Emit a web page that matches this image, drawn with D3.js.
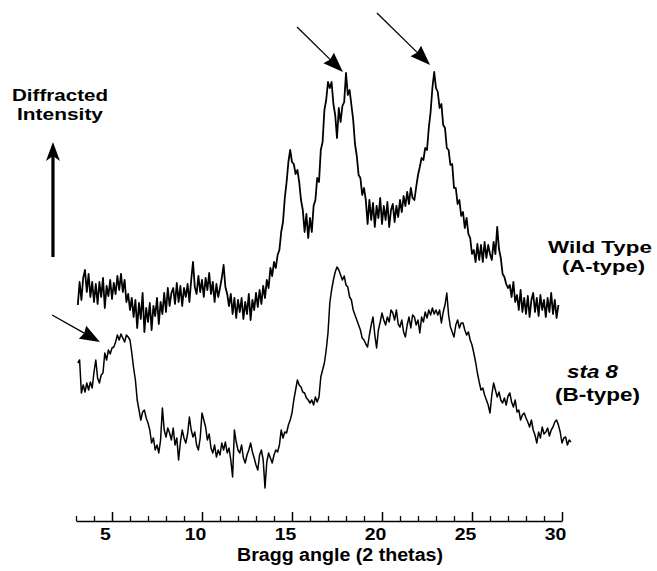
<!DOCTYPE html>
<html>
<head>
<meta charset="utf-8">
<script src="https://cdn.jsdelivr.net/npm/d3@7"></script>
<style>
body { margin: 0; background: #fff; }
svg text { font-family: "Liberation Sans", Arial, sans-serif; font-weight: bold; fill: #000; }
</style>
</head>
<body>
<svg id="chart" width="657" height="571"></svg>
<script>
// scan sampling (2 theta, degrees)
var scanStart = 3.1;
var scanStep = 0.1;

// Wild Type (A-type), counts from 3.1 to 29.8 deg
var wildType = [
  195, 218, 200, 222, 230, 208, 226, 203, 218, 198,
  216, 196, 218, 203, 222, 192, 214, 204, 220, 201,
  217, 206, 224, 210, 226, 208, 220, 198, 206, 190,
  202, 183, 200, 172, 197, 181, 207, 168, 192, 178,
  197, 170, 194, 184, 202, 176, 198, 186, 207, 188,
  212, 194, 207, 212, 196, 217, 198, 214, 194, 212,
  203, 216, 198, 220, 238, 213, 206, 224, 208, 220,
  203, 222, 210, 227, 206, 218, 198, 216, 203, 212,
  222, 235, 213, 206, 194, 206, 186, 202, 182, 200,
  188, 202, 181, 198, 186, 206, 180, 200, 190, 207,
  193, 210, 196, 214, 202, 220, 212, 232, 224, 238,
  232, 245, 250, 268, 278, 302, 318, 338, 350, 338,
  336, 326, 330, 318, 300, 290, 268, 286, 262, 282,
  268, 294, 300, 322, 318, 350, 358, 390, 400, 418,
  412, 418, 396, 385, 362, 392, 378, 394, 398, 427,
  405, 410, 395, 380, 356, 344, 325, 322, 305, 312,
  300, 276, 300, 280, 297, 273, 294, 282, 302, 276,
  294, 280, 298, 273, 290, 296, 278, 294, 283, 300,
  288, 304, 294, 308, 296, 312, 302, 300, 313, 325,
  333, 342, 340, 352, 350, 372, 388, 412, 428, 412,
  408, 392, 396, 375, 372, 352, 350, 335, 336, 312,
  312, 296, 300, 284, 288, 272, 282, 266, 262, 246,
  250, 238, 256, 240, 255, 238, 258, 242, 255, 246,
  240, 258, 246, 273, 251, 242, 226, 223, 216, 212,
  215, 203, 218, 198, 205, 190, 210, 188, 202, 186,
  204, 183, 200, 207, 188, 202, 184, 205, 190, 200,
  183, 202, 188, 207, 186, 200, 182, 195
];

// sta 8 (B-type), counts from 3.1 to 30.5 deg
var sta8 = [
  137, 140, 107, 115, 108, 117, 110, 118, 112, 128,
  140, 122, 117, 125, 127, 147, 140, 150, 146, 152,
  153, 158, 165, 160, 166, 162, 158, 165, 163, 160,
  147, 132, 120, 100, 90, 80, 88, 90, 82, 77,
  70, 57, 62, 50, 55, 47, 60, 92, 70, 63,
  72, 67, 60, 72, 55, 62, 40, 58, 70, 62,
  57, 66, 83, 70, 63, 68, 55, 50, 62, 87,
  80, 73, 60, 66, 52, 47, 55, 43, 50, 45,
  57, 50, 58, 47, 52, 40, 23, 70, 58, 50,
  47, 55, 42, 37, 45, 50, 57, 48, 42, 35,
  30, 45, 50, 40, 12, 38, 47, 42, 37, 45,
  50, 48, 55, 70, 62, 68, 67, 75, 80, 87,
  100, 110, 120, 115, 113, 108, 107, 102, 100, 97,
  100, 95, 103, 98, 103, 123, 130, 137, 150, 167,
  197, 210, 220, 228, 233, 230, 225, 220, 224, 215,
  213, 203, 200, 190, 185, 180, 175, 170, 162, 160,
  156, 153, 165, 175, 183, 165, 152, 170, 178, 187,
  180, 175, 183, 178, 190, 187, 180, 190, 176, 173,
  180, 168, 163, 175, 183, 172, 185, 183, 175, 180,
  167, 183, 178, 188, 182, 190, 185, 192, 186, 190,
  185, 190, 177, 188, 195, 207, 185, 173, 168, 163,
  175, 180, 172, 177, 177, 170, 165, 168, 160, 155,
  147, 138, 127, 118, 110, 112, 105, 100, 95, 87,
  105, 117, 110, 103, 108, 100, 97, 102, 95, 104,
  107, 98, 93, 100, 88, 90, 80, 85, 87, 82,
  78, 73, 80, 70, 65, 57, 68, 62, 73, 66,
  68, 72, 64, 70, 73, 78, 80, 75, 68, 57,
  62, 63, 55, 60, 58
];

var majorTicks = [5, 10, 15, 20, 25, 30];
var minorTicks = [3, 4, 6, 7, 8, 9, 11, 12, 13, 14, 16, 17, 18, 19, 21, 22, 23, 24, 26, 27, 28, 29];

// peak arrows: tail (2theta, counts) -> tip (2theta, counts)
var peakArrows = [
  [1.67, 185, 4.33, 158],
  [15.28, 473, 17.83, 428],
  [19.72, 487, 22.67, 435]
];

var svg = d3.select("#chart");

var x = d3.scaleLinear().domain([3, 30]).range([76, 562]);
var y = d3.scaleLinear().domain([0, 500]).range([500, 0]);

var line = d3.line()
    .x(function(d) { return x(d[0]); })
    .y(function(d) { return y(d[1]); });

function toPoints(vals) {
    return vals.map(function(v, i) { return [scanStart + i * scanStep, v]; });
}

svg.append("path")
    .datum(toPoints(wildType))
    .attr("d", line)
    .attr("fill", "none")
    .attr("stroke", "#000")
    .attr("stroke-width", 1.8)
    .attr("stroke-linejoin", "round");

svg.append("path")
    .datum(toPoints(sta8))
    .attr("d", line)
    .attr("fill", "none")
    .attr("stroke", "#000")
    .attr("stroke-width", 1.5)
    .attr("stroke-linejoin", "round");

// x axis, ticks pointing up
var axisY = 521;
var gx = svg.append("g").attr("transform", "translate(0," + axisY + ")");
gx.call(d3.axisBottom(x).tickValues(majorTicks).tickSizeInner(-9).tickSizeOuter(0).tickPadding(7.4)
    .tickFormat(d3.format("d")));
gx.select(".domain").attr("stroke-width", 1.6);
gx.selectAll(".tick line").attr("stroke-width", 1.5);
gx.selectAll(".tick text")
    .attr("x", -7)
    .attr("font-size", 17)
    .attr("font-family", null)
    .attr("textLength", function(d) { return String(d).length * 10.8; })
    .attr("lengthAdjust", "spacingAndGlyphs");

var gm = svg.append("g").attr("transform", "translate(0," + axisY + ")");
gm.call(d3.axisBottom(x).tickValues(minorTicks).tickSizeInner(-5).tickSizeOuter(0).tickFormat(""));
gm.select(".domain").remove();
gm.selectAll(".tick line").attr("stroke-width", 1.3);

// arrow helpers
function head(x1, y1, x2, y2, len, half, notch) {
    var a = Math.atan2(y2 - y1, x2 - x1);
    var ux = Math.cos(a), uy = Math.sin(a);
    var bx = x2 - ux * len, by = y2 - uy * len;
    var nx = x2 - ux * (len - notch), ny = y2 - uy * (len - notch);
    return "M" + x2 + "," + y2 +
        "L" + (bx - uy * half) + "," + (by + ux * half) +
        "L" + nx + "," + ny +
        "L" + (bx + uy * half) + "," + (by - ux * half) + "Z";
}

function arrow(x1, y1, x2, y2, width, len, half, notch) {
    var a = Math.atan2(y2 - y1, x2 - x1);
    var ex = x2 - Math.cos(a) * (len - notch - 1), ey = y2 - Math.sin(a) * (len - notch - 1);
    svg.append("line")
        .attr("x1", x1).attr("y1", y1).attr("x2", ex).attr("y2", ey)
        .attr("stroke", "#000").attr("stroke-width", width);
    svg.append("path").attr("d", head(x1, y1, x2, y2, len, half, notch)).attr("fill", "#000");
}

peakArrows.forEach(function(p) {
    arrow(x(p[0]), y(p[1]), x(p[2]), y(p[3]), 1.3, 20, 7.5, 2);
});

// intensity direction arrow
arrow(x(1.72), y(243), x(1.72), y(358), 3.2, 19, 7, 5);

// bold labels, stretched to the widths of the original lettering
function label(s, cx, by, size, width, italic) {
    var t = svg.append("text")
        .attr("x", cx).attr("y", by)
        .attr("text-anchor", "middle")
        .attr("font-size", size)
        .attr("textLength", width)
        .attr("lengthAdjust", "spacingAndGlyphs")
        .text(s);
    if (italic) t.attr("font-style", "italic");
}

label("Bragg angle (2 thetas)", 340, 561, 18, 206, false);
label("Diffracted", 60, 101, 16.8, 96, false);
label("Intensity", 60, 120, 16.8, 86, false);
label("Wild Type", 600, 253, 16.8, 104, false);
label("(A-type)", 603.5, 272, 16.8, 83, false);
label("sta 8", 592.5, 378, 18, 51, true);
label("(B-type)", 597.5, 401, 18, 85, false);
</script>
</body>
</html>
